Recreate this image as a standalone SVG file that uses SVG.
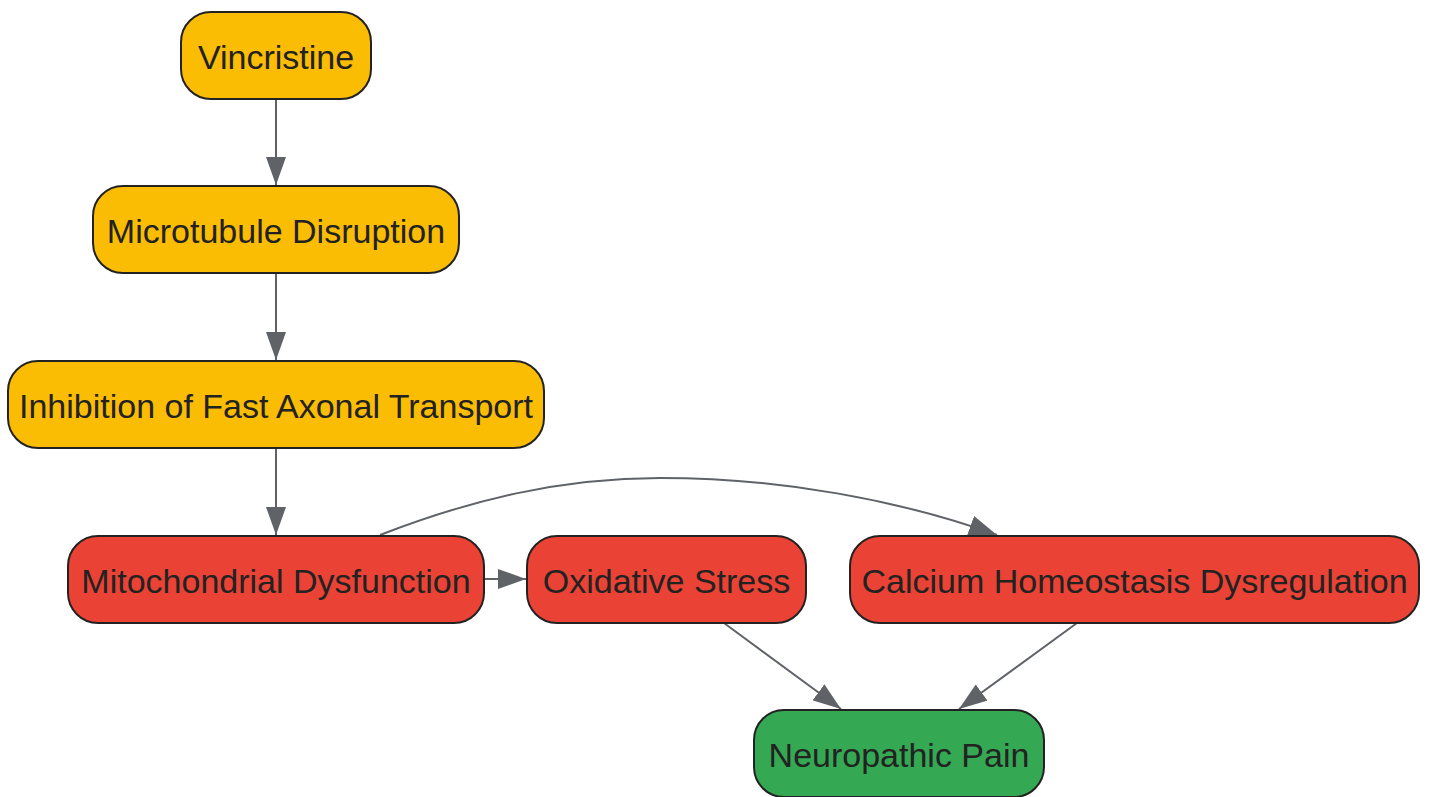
<svg xmlns="http://www.w3.org/2000/svg" width="1430" height="797" viewBox="0 0 1430 797">
<style>
.n rect{stroke:#222;stroke-width:2}
.y{fill:#FBBC04}.r{fill:#EA4335}.g{fill:#34A853}
.n text{font-family:"Liberation Sans",Arial,sans-serif;font-size:34px;fill:#222;text-anchor:middle}
.e path{fill:none;stroke:#5f6368;stroke-width:2}
</style>
<defs>
<marker id="a" viewBox="0 0 28 20" refX="28" refY="10" markerWidth="28" markerHeight="20" markerUnits="userSpaceOnUse" orient="auto">
<path d="M0,0 L28,10 L0,20 Z" fill="#5f6368"/>
</marker>
</defs>
<g class="e">
<path d="M276,99 L276,185" marker-end="url(#a)"/>
<path d="M276,273 L276,360" marker-end="url(#a)"/>
<path d="M276,448 L276,535" marker-end="url(#a)"/>
<path d="M484,579 L526,579" marker-end="url(#a)"/>
<path d="M380,535 C470,500 560,478 660,478 C780,478 900,500 997,535" marker-end="url(#a)"/>
<path d="M724,623 L841,709" marker-end="url(#a)"/>
<path d="M1077,623 L959,709" marker-end="url(#a)"/>
</g>
<g id="vincristine" class="n"><rect class="y" x="181" y="12" width="190" height="87" rx="30"/><text x="276" y="69">Vincristine</text></g>
<g id="microtubule" class="n"><rect class="y" x="93" y="186" width="366" height="87" rx="30"/><text x="276" y="243">Microtubule Disruption</text></g>
<g id="inhibition" class="n"><rect class="y" x="8" y="361" width="536" height="87" rx="30"/><text x="276" y="418">Inhibition of Fast Axonal Transport</text></g>
<g id="mito" class="n"><rect class="r" x="68" y="536" width="416" height="87" rx="30"/><text x="276" y="593">Mitochondrial Dysfunction</text></g>
<g id="oxidative" class="n"><rect class="r" x="527" y="536" width="279" height="87" rx="30"/><text x="666.5" y="593">Oxidative Stress</text></g>
<g id="calcium" class="n"><rect class="r" x="850" y="536" width="569" height="87" rx="30"/><text x="1134.5" y="593">Calcium Homeostasis Dysregulation</text></g>
<g id="pain" class="n"><rect class="g" x="754" y="710" width="290" height="87" rx="30"/><text x="899" y="767">Neuropathic Pain</text></g>
</svg>
